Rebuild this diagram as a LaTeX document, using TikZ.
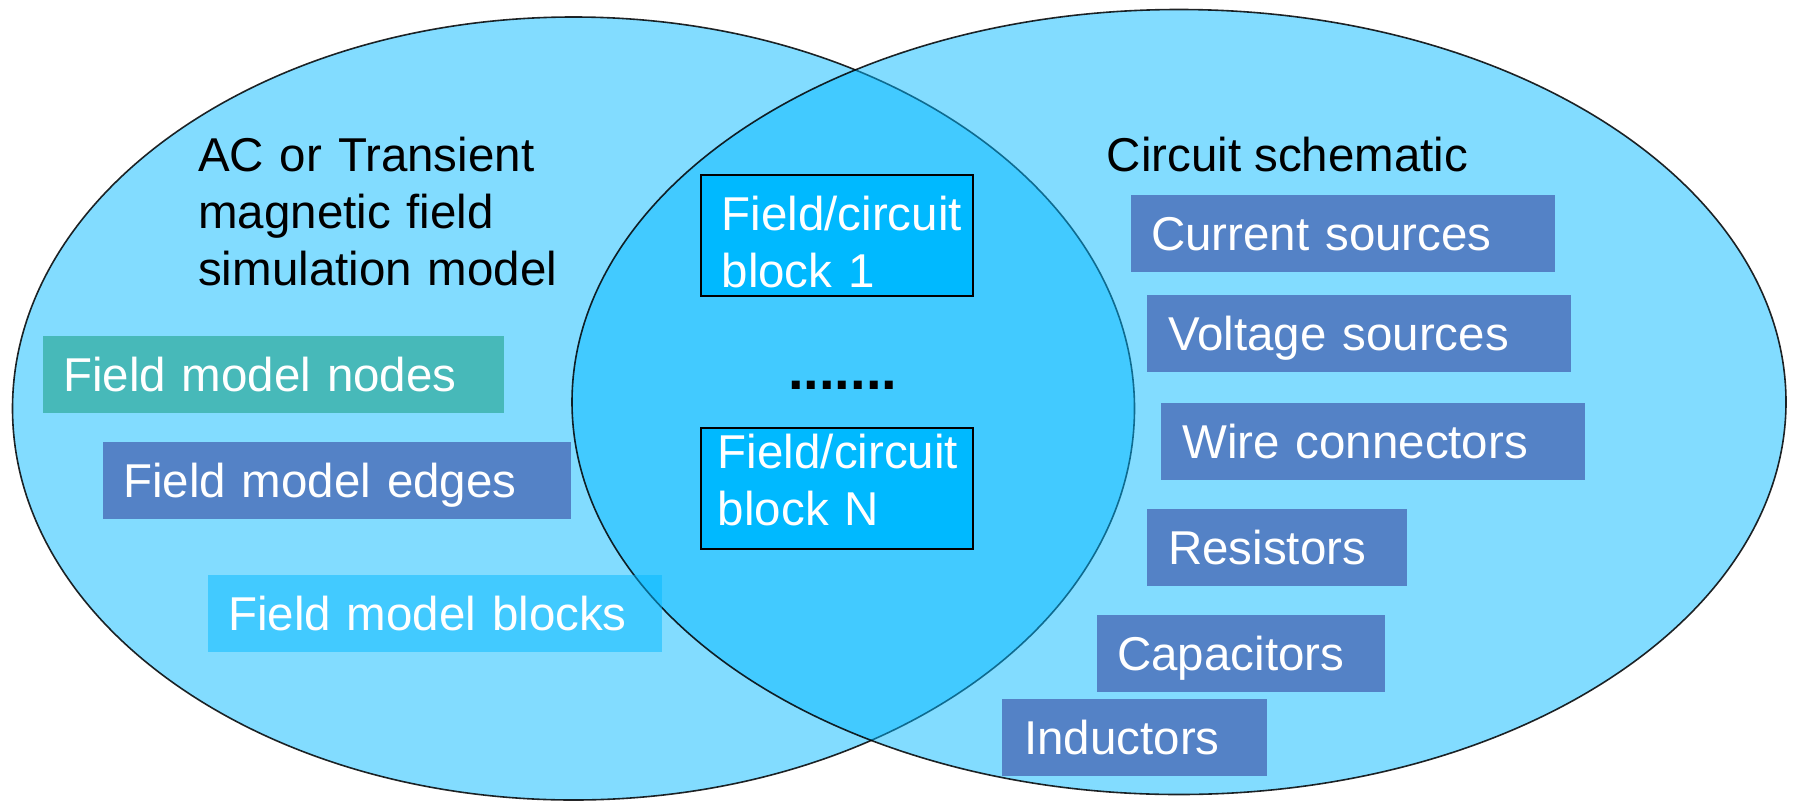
\documentclass[tikz,border=0pt]{standalone}
\usepackage{fontspec}
\setmainfont{Liberation Sans}
\definecolor{ellfill}{RGB}{0,183,255}
\definecolor{tealbox}{RGB}{71,185,185}
\definecolor{bluebox}{RGB}{84,130,198}
\definecolor{cyanbox}{RGB}{0,185,255}
\newcommand{\bigfont}{\fontsize{47.5}{57}\selectfont}
\tikzset{
  ell/.style={fill=ellfill, fill opacity=0.49, draw=black, draw opacity=0.85, line width=1.6pt},
  flat/.style={rectangle, anchor=north west, inner ysep=0pt, inner xsep=20pt, align=left,
    text=white, font=\bigfont, text height=55.5pt, text depth=21.5pt},
  blk/.style={rectangle, anchor=north west, inner ysep=0pt, align=left, draw=black,
    line width=1.8pt, fill=cyanbox, text=white, font=\bigfont},
  lbl/.style={anchor=base west, inner sep=0pt, align=left, font=\bigfont, text=black}
}
\begin{document}
\begin{tikzpicture}[x=1pt,y=-1pt]
\useasboundingbox (0,0) rectangle (1793,801);
% ellipses
\path[ell] (573.5,408.5) ellipse [x radius=561, y radius=391.5];
\path[ell] (1179,402) ellipse [x radius=607, y radius=392.5];
% left labels and boxes
\node[lbl, text width=420pt] (fieldlbl) at (198,171) {AC or Transient\\magnetic field\\simulation model};
\node[flat, fill=tealbox, text width=421pt] (fnodes) at (43,336) {Field model nodes};
\node[flat, fill=bluebox, text width=428pt] (fedges) at (103,441.5) {Field model edges};
\node[flat, fill=ellfill, fill opacity=0.49, text opacity=1, text width=414pt] (fblocks) at (208,575) {Field model blocks};
% middle blocks
\node[blk, inner xsep=20.7pt, text width=230.6pt, text height=56pt, text depth=65pt] (blk1) at (700,174) {Field/circuit\\block 1};
\node[lbl, font=\fontsize{56}{60}\selectfont\bfseries] (dots) at (788,389) {.......};
\node[blk, inner xsep=17pt, text width=238pt, text height=41.3pt, text depth=79.7pt] (blkN) at (700,426.7) {Field/circuit\\block N};
% right labels and boxes
\node[lbl] (circlbl) at (1106.5,171) {Circuit schematic};
\node[flat, fill=bluebox, text width=384pt] (cur) at (1131,195) {Current sources};
\node[flat, fill=bluebox, inner xsep=21pt, text width=382pt] (volt) at (1147,294.5) {Voltage sources};
\node[flat, fill=bluebox, inner xsep=21pt, text width=382pt] (wire) at (1161,402.5) {Wire connectors};
\node[flat, fill=bluebox, inner xsep=21pt, text width=218pt] (res) at (1147,509) {Resistors};
\node[flat, fill=bluebox, text width=248pt] (cap) at (1097,614.5) {Capacitors};
\node[flat, fill=bluebox, inner xsep=22pt, text width=221pt] (ind) at (1002,699) {Inductors};
\end{tikzpicture}
\end{document}
